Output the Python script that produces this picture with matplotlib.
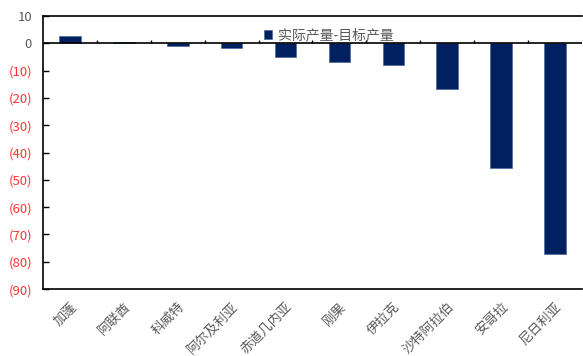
import matplotlib
matplotlib.use('Agg')
import matplotlib.pyplot as plt
import numpy as np

plt.rcParams['font.family'] = ['Noto Sans CJK SC', 'DejaVu Sans']

# data
countries = ['加蓬', '阿联酋', '科威特', '阿尔及利亚', '赤道几内亚', '刚果', '伊拉克', '沙特阿拉伯', '安哥拉', '尼日利亚']
gap = [2.5, 0.5, -0.8, -1.8, -5.0, -7.0, -8.0, -16.8, -45.8, -77.0]
yticks = [10, 0, -10, -20, -30, -40, -50, -60, -70, -80, -90]

fig = plt.figure(figsize=(5.83, 3.56), dpi=100)
ax = fig.add_axes([0.074, 0.188, 0.924, 0.767])

x = np.arange(len(countries))
ax.bar(x, gap, width=0.4, color='#002060', edgecolor='#4a6a9a', linewidth=0.5,
       label='实际产量-目标产量', zorder=2)

ax.set_xlim(-0.5, len(countries) - 0.5)
ax.set_ylim(-90, 10)

# zero line with category separators
ax.axhline(0, color='black', lw=1.2, zorder=3)
ax.vlines(x[:-1] + 0.5, 0, 1.2, color='black', lw=1.0, zorder=3)

ax.set_yticks(yticks)
labels = []
for v in yticks:
    labels.append(str(v) if v >= 0 else '(%d)' % -v)
ax.set_yticklabels(labels, fontsize=9.5)
for t, v in zip(ax.get_yticklabels(), yticks):
    t.set_color('#595959' if v >= 0 else '#ff3333')
ax.tick_params(axis='y', direction='in', length=4, width=1, pad=8)

ax.set_xticks(x)
ax.set_xticklabels(countries, rotation=45, ha='right', rotation_mode='anchor',
                   fontsize=9.5, color='#595959')
ax.tick_params(axis='x', length=0, pad=8)

for s in ax.spines.values():
    s.set_linewidth(1.2)
ax.spines['right'].set_visible(False)

ax.legend(loc='upper center', bbox_to_anchor=(0.53, 1.0), frameon=False,
          fontsize=10, labelcolor='#595959', handlelength=0.6, handleheight=0.6,
          handletextpad=0.4)

fig.savefig('out.png', dpi=100)
